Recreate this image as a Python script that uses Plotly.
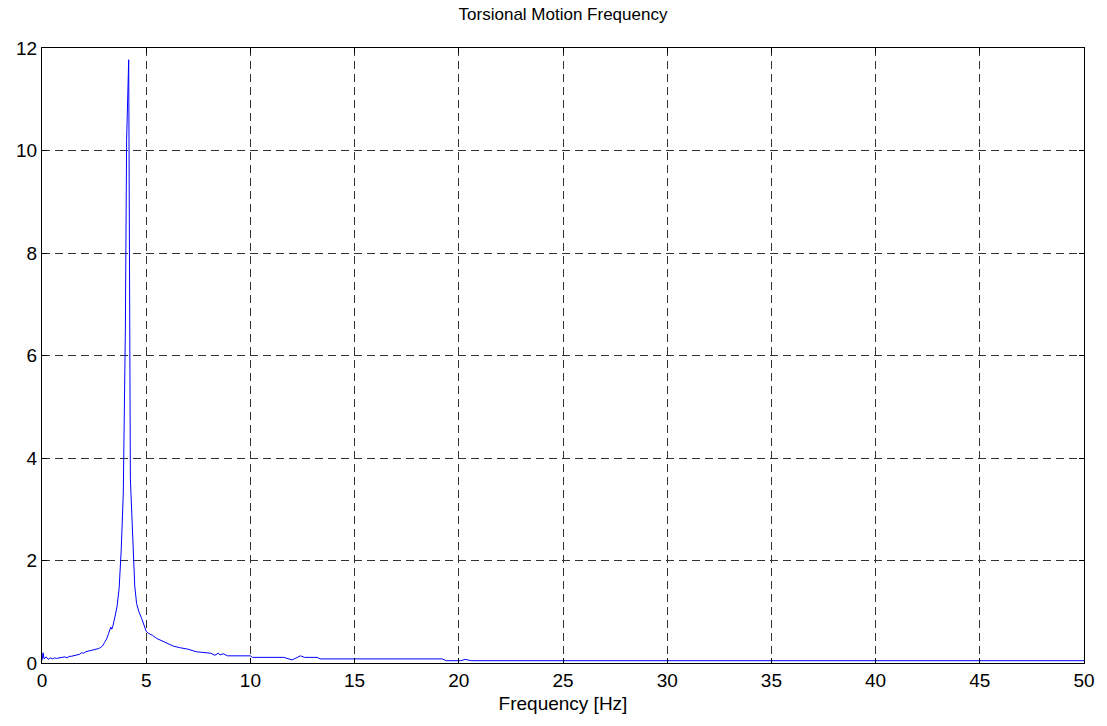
import plotly.graph_objects as go

freq = [0.0, 0.05, 0.1, 0.2, 0.3, 0.4, 0.5, 0.6, 0.7, 0.8, 0.9, 1.0, 1.1, 1.2, 1.3, 1.4,
        1.5, 1.6, 1.7, 1.8, 1.9, 2.0, 2.1, 2.2, 2.3, 2.4, 2.5, 2.6, 2.7, 2.8, 2.9, 3.0,
        3.1, 3.2, 3.3, 3.35, 3.4, 3.5, 3.6, 3.7, 3.8, 3.9, 4.0, 4.06, 4.16, 4.24, 4.3,
        4.38, 4.45, 4.54, 4.65, 4.78, 4.9, 5.0, 5.1, 5.3, 5.5, 5.8, 6.0, 6.3, 6.6, 6.8,
        7.0, 7.4, 7.8, 8.1, 8.3, 8.45, 8.55, 8.7, 8.9, 9.5, 10.0, 10.1, 11.6, 12.0, 12.4,
        12.6, 13.2, 13.35, 19.2, 19.4, 20.1, 20.3, 20.6, 30.0, 40.0, 50.0]
amp = [0.05, 0.2, 0.08, 0.12, 0.07, 0.10, 0.08, 0.10, 0.09, 0.10, 0.10, 0.11, 0.12, 0.10, 0.13, 0.13,
       0.14, 0.15, 0.16, 0.17, 0.20, 0.19, 0.22, 0.23, 0.24, 0.24, 0.26, 0.27, 0.28, 0.30, 0.33, 0.40,
       0.47, 0.58, 0.70, 0.66, 0.72, 0.90, 1.10, 1.45, 2.2, 3.3, 6.5, 10.2, 11.77, 3.6, 3.0,
       2.0, 1.5, 1.16, 1.0, 0.87, 0.72, 0.62, 0.58, 0.54, 0.48, 0.42, 0.38, 0.33, 0.30, 0.29,
       0.27, 0.22, 0.21, 0.19, 0.15, 0.19, 0.16, 0.18, 0.14, 0.14, 0.14, 0.11, 0.11, 0.06, 0.14,
       0.11, 0.11, 0.08, 0.08, 0.045, 0.045, 0.07, 0.045, 0.045, 0.045, 0.045]

x_ticks = [0, 5, 10, 15, 20, 25, 30, 35, 40, 45, 50]
y_ticks = [0, 2, 4, 6, 8, 10, 12]

FONT = "Liberation Sans, Arial, sans-serif"

fig = go.Figure()
fig.add_trace(go.Scatter(x=freq, y=amp, mode="lines",
                         line=dict(color="#0000FF", width=1), showlegend=False))

axis_common = dict(
    showline=True, linecolor="black", linewidth=1, mirror="ticks",
    ticks="inside", ticklen=5, tickcolor="black",
    showgrid=True, gridcolor="#333333", gridwidth=1, griddash="8px,5px",
    zeroline=False, tickfont=dict(family=FONT, size=19, color="black"),
)

fig.update_layout(
    width=1107, height=726,
    margin=dict(l=42, r=23, t=48, b=63),
    paper_bgcolor="white", plot_bgcolor="white",
    title=dict(text="Torsional Motion Frequency", xref="paper", x=0.5, xanchor="center",
               yref="container", y=0.981, yanchor="middle",
               font=dict(family=FONT, size=17, color="black")),
    xaxis=dict(range=[0, 50], tickvals=x_ticks,
               title=dict(text="Frequency [Hz]", standoff=6,
                          font=dict(family=FONT, size=19, color="black")),
               **axis_common),
    yaxis=dict(range=[0, 12], tickvals=y_ticks, **axis_common),
)

fig.write_html("out.html",
               config={"displayModeBar": False},
               post_script="document.body.style.margin='0';document.body.style.overflow='hidden';")
